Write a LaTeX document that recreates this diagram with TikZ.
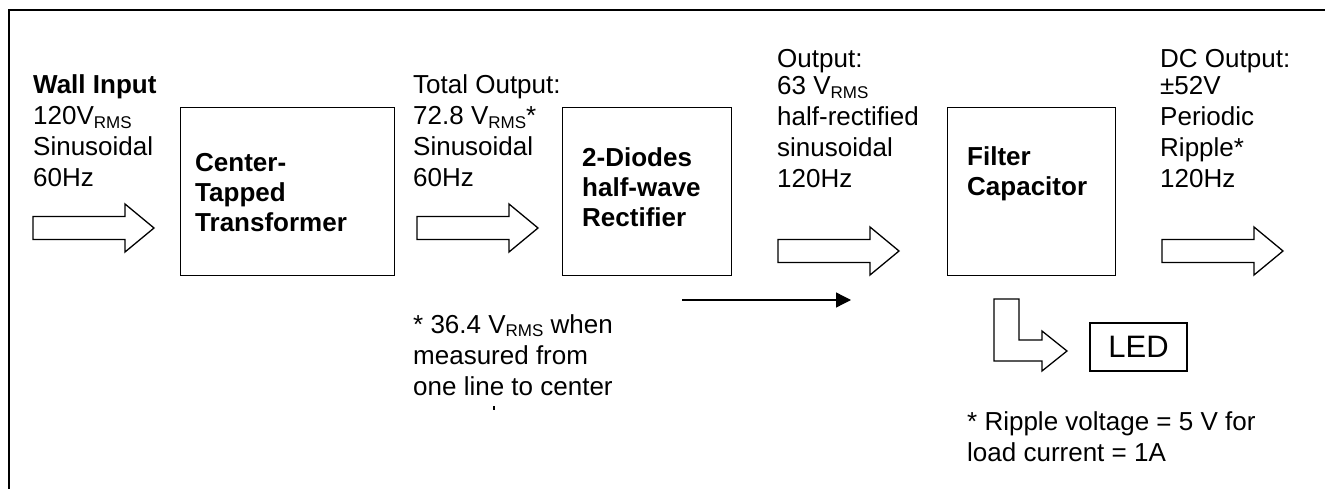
\documentclass[tikz,border=0pt]{standalone}
\usepackage{fontspec}
\setmainfont{Liberation Sans}
\usetikzlibrary{arrows.meta}
\newcommand\rms{\raisebox{-3.5pt}{\fontsize{17}{17}\selectfont RMS}}
\newenvironment{lns}{\begin{tabular}[t]{@{}l@{}}}{\end{tabular}}
\tikzset{
  frameline/.style={line width=2pt},
  blk/.style={draw, line width=1.3pt, inner sep=0pt, anchor=north west},
  txt/.style={inner sep=0pt, anchor=base west, font={\fontsize{26}{31}\selectfont}},
  btxt/.style={inner sep=0pt, anchor=base west, font={\fontsize{26}{30}\selectfont\bfseries}},
  arrowline/.style={draw, line width=1.3pt, line join=miter, fill=white},
  barrow/.pic={\path[arrowline] (0,-11.5) -- (92,-11.5) -- (92,-24) -- (121,0) -- (92,24) -- (92,11.5) -- (0,11.5) -- cycle;}
}
\begin{document}
\begin{tikzpicture}[x=1pt,y=-1pt]
\useasboundingbox (0,0) rectangle (1325,489);
\draw[frameline] (9,489) -- (9,10) -- (1325,10);
% blocks
\node[blk, minimum width=214pt, minimum height=168pt] (tr) at (180,107) {};
\node[blk, minimum width=169pt, minimum height=168pt] (rc) at (562,107) {};
\node[blk, minimum width=168pt, minimum height=168pt] (fc) at (947,107) {};
\node[btxt] (trt) at (195,172) {\begin{lns}Center-\\Tapped\\Transformer\end{lns}};
\node[btxt] (rct) at (582,167) {\begin{lns}2-Diodes\\half-wave\\Rectifier\end{lns}};
\node[btxt] (fct) at (967,166) {\begin{lns}Filter\\Capacitor\end{lns}};
% block arrows
\path (33,228) pic {barrow};
\path (417,228) pic {barrow};
\path (778,251) pic {barrow};
\path (1162,251) pic {barrow};
% texts
\node[txt] (win) at (33,94) {\begin{lns}\textbf{Wall Input}\\120V\rms\\Sinusoidal\\60Hz\end{lns}};
\node[txt] (tout) at (413,94) {\begin{lns}Total Output:\\72.8 V\rms*\\Sinusoidal\\60Hz\end{lns}};
\node[txt] (rout) at (777,68) {\begin{lns}Output:\\[-4pt]63 V\rms\\half-rectified\\sinusoidal\\120Hz\end{lns}};
\node[txt] (dout) at (1160,68) {\begin{lns}DC Output:\\[-4pt]\char"00B1 52V\\Periodic\\Ripple*\\120Hz\end{lns}};
\node[txt] (note1) at (413,333) {\begin{lns}* 36.4 V\rms{} when\\measured from\\one line to center\end{lns}};
\draw[line width=1.5pt] (494,406) -- (494,410);
\node[txt] (note2) at (967,430) {\begin{lns}* Ripple voltage = 5 V for\\load current = 1A\end{lns}};
% thin arrow
\coordinate (ts) at (682,300);
\coordinate (te) at (851,300);
\draw[line width=1.3pt, -{Triangle[length=15pt,width=15pt]}] (ts) -- (te);
% L arrow to LED
\path[arrowline] (994,299) -- (1019,299) -- (1019,340) -- (1042,340) -- (1042,331) -- (1067,351) -- (1042,371) -- (1042,361) -- (994,361) -- cycle;
\node[draw, line width=1.3pt, minimum width=97pt, minimum height=48pt, inner sep=0pt, font={\fontsize{31}{31}\selectfont}] (led) at (1138.5,347) {LED};
\end{tikzpicture}
\end{document}
